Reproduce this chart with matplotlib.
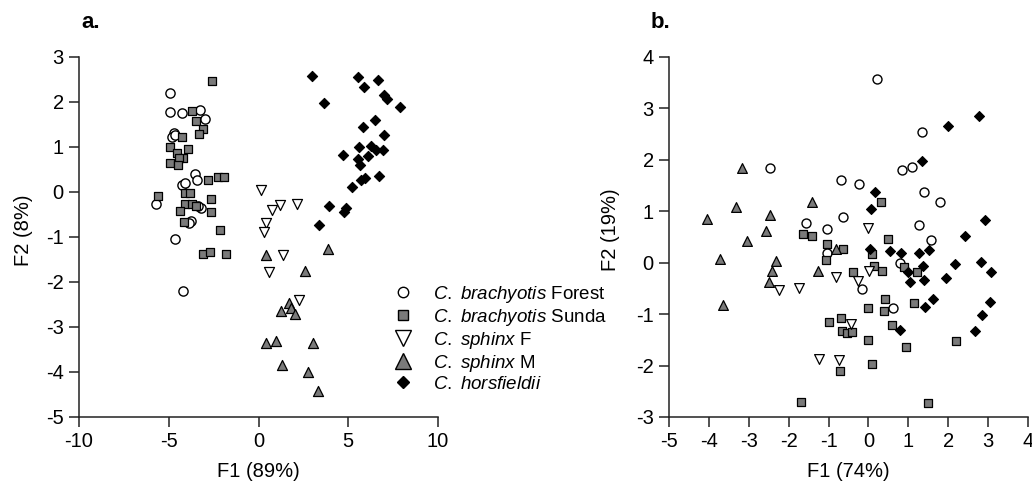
import matplotlib
matplotlib.use("Agg")
import matplotlib.pyplot as plt
from matplotlib.lines import Line2D

plt.rcParams['font.family'] = ['Liberation Sans', 'DejaVu Sans']
plt.rcParams['mathtext.fontset'] = 'custom'
plt.rcParams['mathtext.rm'] = 'Liberation Sans'
plt.rcParams['mathtext.it'] = 'Liberation Sans:italic'
plt.rcParams['axes.unicode_minus'] = False

# ---- panel a (F1 89%, F2 8%) ----
a_forest_x = [-4.91, -4.95, -4.26, -3.25, -3.0, -4.72, -4.83, -4.65, -3.53, -3.42,
              -4.28, -4.09, -5.71, -3.22, -3.39, -3.75, -3.85, -4.63, -4.18]
a_forest_y = [2.21, 1.77, 1.76, 1.82, 1.63, 1.31, 1.22, 1.27, 0.41, 0.26,
              0.15, 0.2, -0.26, -0.36, -0.31, -0.64, -0.68, -1.04, -2.2]

a_sunda_x = [-2.58, -3.7, -3.47, -3.07, -3.31, -4.26, -4.93, -3.92, -4.55, -4.18,
             -4.44, -4.93, -4.48, -2.83, -2.23, -1.91, -5.6, -4.07, -3.81, -2.62,
             -4.11, -3.7, -3.46, -4.37, -2.64, -4.14, -2.16, -3.12, -2.73, -1.8]
a_sunda_y = [2.46, 1.8, 1.58, 1.41, 1.28, 1.22, 1.0, 0.96, 0.87, 0.76,
             0.76, 0.65, 0.6, 0.26, 0.33, 0.33, -0.1, -0.02, -0.02, -0.15,
             -0.27, -0.26, -0.31, -0.43, -0.44, -0.67, -0.85, -1.38, -1.34, -1.38]

a_sphinxF_x = [0.15, 0.76, 1.17, 2.14, 0.43, 0.33, 1.39, 0.57, 2.25]
a_sphinxF_y = [0.04, -0.41, -0.28, -0.26, -0.7, -0.89, -1.41, -1.78, -2.39]

a_sphinxM_x = [3.87, 0.39, 2.57, 1.69, 1.27, 1.82, 2.06, 0.39, 0.95, 3.03, 1.32, 2.75, 3.31]
a_sphinxM_y = [-1.26, -1.39, -1.76, -2.47, -2.65, -2.57, -2.72, -3.35, -3.32, -3.35, -3.85, -4.0, -4.43]

a_hors_x = [2.99, 5.54, 6.65, 5.86, 6.99, 7.18, 7.86, 3.63, 6.51, 5.82,
            6.97, 5.58, 6.25, 6.53, 6.93, 4.70, 6.10, 5.54, 5.63, 5.91,
            5.73, 6.69, 5.20, 3.92, 4.85, 4.76, 3.36]
a_hors_y = [2.57, 2.56, 2.48, 2.33, 2.15, 2.06, 1.89, 1.98, 1.59, 1.44,
            1.26, 0.99, 1.02, 0.94, 0.94, 0.83, 0.79, 0.73, 0.59, 0.32,
            0.26, 0.35, 0.1, -0.31, -0.35, -0.44, -0.74]

# ---- panel b (F1 74%, F2 19%) ----
b_forest_x = [-2.46, 0.21, 1.35, 0.84, 1.10, -0.68, -0.24, 1.40, 1.80, -0.64,
              -1.56, -1.03, 1.28, 1.57, -1.04, 0.80, -0.17, 0.61]
b_forest_y = [1.85, 3.57, 2.55, 1.80, 1.87, 1.61, 1.53, 1.38, 1.18, 0.88,
              0.77, 0.66, 0.73, 0.44, 0.18, 0.0, -0.52, -0.89]

b_sunda_x = [0.32, -1.65, -1.42, -1.04, -0.64, 0.48, 0.09, -1.06, -0.39, 0.15,
             0.33, 0.88, 1.21, 0.42, 0.0, 0.38, 1.13, 0.58, 0.0, 0.95,
             2.2, 0.09, 1.49, -0.99, -0.70, -0.66, -0.53, -0.41, -0.71, -1.70]
b_sunda_y = [1.18, 0.55, 0.52, 0.36, 0.27, 0.46, 0.16, 0.05, -0.18, -0.06,
             -0.16, -0.08, -0.18, -0.7, -0.88, -0.93, -0.79, -1.22, -1.51, -1.64,
             -1.53, -1.97, -2.73, -1.16, -1.07, -1.33, -1.36, -1.35, -2.11, -2.71]

b_sphinxF_x = [-0.02, 0.01, -0.27, -0.81, -2.25, -1.73, -0.43, -1.23, -0.73]
b_sphinxF_y = [0.67, -0.16, -0.36, -0.27, -0.54, -0.5, -1.2, -1.87, -1.9]

b_sphinxM_x = [-3.18, -3.32, -4.05, -2.48, -2.56, -3.04, -3.72, -2.31, -2.41, -2.5,
               -1.27, -3.65, -1.41, -0.81]
b_sphinxM_y = [1.85, 1.09, 0.85, 0.92, 0.62, 0.42, 0.07, 0.03, -0.16, -0.38,
               -0.16, -0.83, 1.18, 0.26]

b_hors_x = [1.99, 2.76, 1.34, 0.17, 0.07, 2.92, 2.41, 0.03, 0.55, 0.82,
            1.28, 1.53, 2.18, 2.82, 1.38, 0.99, 1.04, 1.39, 1.95, 3.07,
            1.61, 1.43, 3.05, 2.84, 2.66, 0.80]
b_hors_y = [2.66, 2.86, 1.98, 1.38, 1.04, 0.83, 0.52, 0.26, 0.23, 0.18,
            0.19, 0.25, -0.03, 0.02, -0.06, -0.19, -0.38, -0.34, -0.29, -0.18,
            -0.71, -0.86, -0.77, -1.01, -1.33, -1.3]

labels = [r"$\mathit{C.\ brachyotis}$ Forest",
          r"$\mathit{C.\ brachyotis}$ Sunda",
          r"$\mathit{C.\ sphinx}$ F",
          r"$\mathit{C.\ sphinx}$ M",
          r"$\mathit{C.\ horsfieldii}$"]

gray = '#7a7a7a'
styles = [dict(marker='o', facecolor='white', s=44, linewidths=1.0),
          dict(marker='s', facecolor=gray, s=34, linewidths=0.9),
          dict(marker='v', facecolor='white', s=52, linewidths=0.9),
          dict(marker='^', facecolor=gray, s=52, linewidths=0.9),
          dict(marker='D', facecolor='black', s=27, linewidths=0.8)]

fig = plt.figure(figsize=(10.32, 4.88), dpi=100)
ax1 = fig.add_axes([0.0766, 0.1455, 0.3478, 0.7377])
ax2 = fig.add_axes([0.6483, 0.1455, 0.3478, 0.7377])

groups_a = [(a_forest_x, a_forest_y), (a_sunda_x, a_sunda_y), (a_sphinxF_x, a_sphinxF_y),
            (a_sphinxM_x, a_sphinxM_y), (a_hors_x, a_hors_y)]
groups_b = [(b_forest_x, b_forest_y), (b_sunda_x, b_sunda_y), (b_sphinxF_x, b_sphinxF_y),
            (b_sphinxM_x, b_sphinxM_y), (b_hors_x, b_hors_y)]

for (x, y), st in zip(groups_a, styles):
    ax1.scatter(x, y, marker=st['marker'], c=st['facecolor'], s=st['s'],
                edgecolors='black', linewidths=st['linewidths'], clip_on=False, zorder=3)
for (x, y), st in zip(groups_b, styles):
    sb = st['s'] * (0.8 if st['marker'] == 's' else 0.95)
    ax2.scatter(x, y, marker=st['marker'], c=st['facecolor'], s=sb,
                edgecolors='black', linewidths=st['linewidths'], clip_on=False, zorder=3)

ax1.set_xlim(-10, 10); ax1.set_ylim(-5, 3)
ax1.set_xticks([-10, -5, 0, 5, 10]); ax1.set_yticks(range(-5, 4))
ax2.set_xlim(-5, 4); ax2.set_ylim(-3, 4)
ax2.set_xticks(range(-5, 5)); ax2.set_yticks(range(-3, 5))

for ax in (ax1, ax2):
    for side in ('top', 'right'):
        ax.spines[side].set_visible(False)
    for side in ('left', 'bottom'):
        ax.spines[side].set_linewidth(1.1)
        ax.spines[side].set_color('#222222')
    ax.tick_params(direction='out', length=7, width=1.1, color='#222222',
                   labelsize=14.5, pad=4)

ax1.set_xlabel("F1 (89%)", fontsize=14.5)
ax1.set_ylabel("F2 (8%)", fontsize=14.5)
ax2.set_xlabel("F1 (74%)", fontsize=14.5)
ax2.set_ylabel("F2 (19%)", fontsize=14.5)
ax1.xaxis.set_label_coords(0.5, -0.125)
ax2.xaxis.set_label_coords(0.5, -0.125)
ax1.yaxis.set_label_coords(-0.128, 0.52)
ax2.yaxis.set_label_coords(-0.137, 0.52)

fig.text(81 / 1032, 1 - 22 / 488, "a.", fontsize=16, fontweight='bold', va='center', ha='left')
fig.text(651 / 1032, 1 - 22 / 488, "b.", fontsize=16, fontweight='bold', va='center', ha='left')

handles = [Line2D([], [], ls='none', marker='o', markersize=7.5, markerfacecolor='white',
                  markeredgecolor='black', markeredgewidth=1.0),
           Line2D([], [], ls='none', marker='s', markersize=7.5, markerfacecolor=gray,
                  markeredgecolor='black', markeredgewidth=1.0),
           Line2D([], [], ls='none', marker='v', markersize=12, markerfacecolor='white',
                  markeredgecolor='black', markeredgewidth=1.0),
           Line2D([], [], ls='none', marker='^', markersize=12, markerfacecolor=gray,
                  markeredgecolor='black', markeredgewidth=1.0),
           Line2D([], [], ls='none', marker='D', markersize=6.5, markerfacecolor='black',
                  markeredgecolor='black', markeredgewidth=1.0)]
ax1.legend(handles, labels, loc='upper left', bbox_to_anchor=(390 / 1032, 1 - 284 / 488),
           bbox_transform=fig.transFigure, frameon=False, fontsize=13.5,
           borderpad=0, borderaxespad=0, handlelength=1.4, handletextpad=0.9,
           labelspacing=0.1)

fig.savefig("out.png", dpi=100)
